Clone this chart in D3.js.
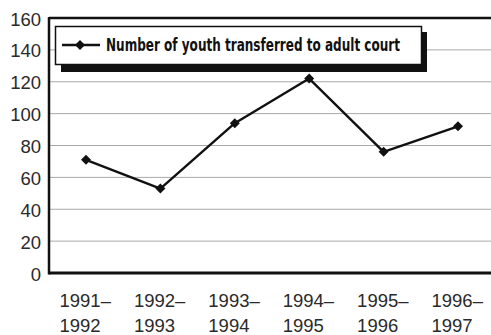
<!DOCTYPE html>
<html>
<head>
<meta charset="utf-8">
<script src="https://cdn.jsdelivr.net/npm/d3@7"></script>
<style>
  html, body { margin: 0; padding: 0; background: #fff; }
  svg { display: block; }
</style>
</head>
<body>
<svg id="chart" width="491" height="335"></svg>
<script>
// Youth transferred to adult court, by fiscal year
const periods = ["1991–1992", "1992–1993", "1993–1994", "1994–1995", "1995–1996", "1996–1997"];
const transfers = [71, 53, 94, 122, 76, 92];
const yTicks = [0, 20, 40, 60, 80, 100, 120, 140, 160];
const seriesName = "Number of youth transferred to adult court";

const svg = d3.select("#chart");
const W = 491, H = 335;
const m = { left: 49, right: 0, top: 18, bottom: 62 };
const tickFont = "Liberation Sans, Arial, sans-serif";

const x = d3.scalePoint().domain(periods).range([86, 458]);
const y = d3.scaleLinear().domain([0, 160]).range([H - m.bottom, m.top]);

// horizontal gridlines
svg.append("g")
  .selectAll("line")
  .data(yTicks.filter(t => t > 0 && t < 160))
  .join("line")
  .attr("x1", m.left).attr("x2", W)
  .attr("y1", d => y(d)).attr("y2", d => y(d))
  .attr("stroke", "#a8a8a8").attr("stroke-width", 1);

// y axis labels
const yAxis = svg.append("g")
  .attr("transform", `translate(${m.left},0)`)
  .call(d3.axisLeft(y).tickValues(yTicks).tickSize(0).tickPadding(8));
yAxis.select(".domain").remove();
yAxis.selectAll("text")
  .attr("font-family", tickFont)
  .attr("font-size", 18.5)
  .attr("dy", "0.38em")
  .attr("fill", "#2a2a2a");

// x axis labels (two lines each, left-aligned)
const xAxis = svg.append("g")
  .attr("transform", `translate(0,${y(0)})`)
  .call(d3.axisBottom(x).tickSize(0).tickFormat(""));
xAxis.select(".domain").remove();
xAxis.selectAll(".tick").each(function(d) {
  const parts = d.split("–");
  const t = d3.select(this).append("text")
    .attr("font-family", tickFont)
    .attr("font-size", 18.5)
    .attr("fill", "#2a2a2a")
    .attr("text-anchor", "start");
  t.append("tspan").attr("x", -27).attr("y", 34).text(parts[0] + "–");
  t.append("tspan").attr("x", -27).attr("y", 59).text(parts[1]);
});

// plot frame: left, top and bottom
svg.append("line").attr("x1", m.left).attr("x2", W).attr("y1", y(160)).attr("y2", y(160))
  .attr("stroke", "#111").attr("stroke-width", 2.5);
svg.append("line").attr("x1", m.left).attr("x2", W).attr("y1", y(0)).attr("y2", y(0))
  .attr("stroke", "#111").attr("stroke-width", 3);
svg.append("line").attr("x1", m.left).attr("x2", m.left).attr("y1", y(160) - 1).attr("y2", y(0) + 1.5)
  .attr("stroke", "#111").attr("stroke-width", 2.5);

// data line
const line = d3.line().x((d, i) => x(periods[i])).y(d => y(d));
svg.append("path")
  .datum(transfers)
  .attr("d", line)
  .attr("fill", "none")
  .attr("stroke", "#111")
  .attr("stroke-width", 2.4)
  .attr("stroke-linejoin", "round");

const diamond = d3.symbol().type(d3.symbolSquare).size(50);
svg.append("g")
  .selectAll("path")
  .data(transfers)
  .join("path")
  .attr("d", diamond)
  .attr("transform", (d, i) => `translate(${x(periods[i])},${y(d)}) rotate(45)`)
  .attr("fill", "#111");

// legend with drop shadow
const lg = svg.append("g");
lg.append("rect").attr("x", 61).attr("y", 32).attr("width", 366).attr("height", 40).attr("fill", "#111");
lg.append("rect").attr("x", 55.5).attr("y", 26.5).attr("width", 366).attr("height", 38)
  .attr("fill", "#fff").attr("stroke", "#111").attr("stroke-width", 1.5);
lg.append("line").attr("x1", 62).attr("x2", 100).attr("y1", 45).attr("y2", 45)
  .attr("stroke", "#111").attr("stroke-width", 2.4);
lg.append("path").attr("d", diamond).attr("transform", "translate(80,45) rotate(45)").attr("fill", "#111");
lg.append("text")
  .attr("x", 106).attr("y", 51)
  .attr("font-family", "Liberation Sans Narrow, DejaVu Sans Condensed, sans-serif")
  .attr("font-weight", "bold")
  .attr("font-size", 17)
  .attr("textLength", 294)
  .attr("lengthAdjust", "spacingAndGlyphs")
  .attr("fill", "#111")
  .text(seriesName);
</script>
</body>
</html>
